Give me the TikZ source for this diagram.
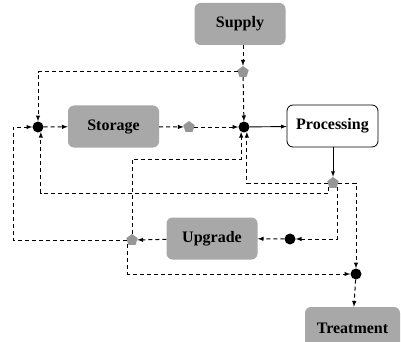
\documentclass[tikz,border=0pt]{standalone}
\usepackage{fontspec}
\setmainfont{Liberation Serif}
\usetikzlibrary{shapes.geometric}
\definecolor{boxgray}{RGB}{168,168,168}
\definecolor{markgray}{RGB}{150,150,150}
\begin{document}
\begin{tikzpicture}[x=1pt, y=-1pt,
    unit/.style = {rounded corners=6pt, minimum width=91pt, minimum height=42pt,
                   fill=boxgray, font=\fontsize{16}{18}\selectfont\bfseries},
    junction/.style = {circle, fill=black, inner sep=0pt, minimum size=11pt},
    mixer/.style = {regular polygon, regular polygon sides=5, fill=markgray,
                    inner sep=0pt, minimum size=12pt},
    flow/.style = {dashed, dash pattern=on 4pt off 3pt, line width=1pt, -latex},
    feed/.style = {line width=0.9pt, -latex}
  ]
  \useasboundingbox (0,0) rectangle (401,342);
  % units
  \node[unit] (supply) at (240,24) {Supply};
  \node[unit] (storage) at (113.5,126.5) {Storage};
  \node[unit, fill=white, draw=black, line width=0.8pt] (processing) at (332.5,126) {Processing};
  \node[unit] (upgrade) at (212,238.5) {Upgrade};
  \node[unit, minimum width=95pt] (treatment) at (352.5,328) {Treatment};
  % junctions and mixers
  \node[junction] (jleft) at (38,127) {};
  \node[junction] (jmid) at (244,127) {};
  \node[junction] (jup) at (290,239) {};
  \node[junction] (jout) at (356,274) {};
  \node[mixer] (msupply) at (243,72) {};
  \node[mixer] (mstore) at (189,127) {};
  \node[mixer] (mproc) at (333,183) {};
  \node[mixer] (mup) at (132,240) {};
  \coordinate (leftrail) at (13,0);
  \coordinate (midrail) at (0,159);
  \coordinate (lowrail) at (0,193);
  \coordinate (botrail) at (0,274);
  % connections
  \draw[flow] (supply.south -| msupply) -- (msupply);
  \draw[flow] (msupply) -| (jleft);
  \draw[flow] (msupply) -- (jmid);
  \draw[flow] (jleft) -- (storage);
  \draw[flow] (storage) -- (mstore);
  \draw[flow] (mstore) -- (jmid);
  \draw[feed] (jmid) -- (processing);
  \draw[feed] (processing.south -| mproc) -- (mproc);
  \draw[flow] (mproc) -| (jmid.-60);
  \draw[flow] (mproc.south west) |- (jleft.-60 |- lowrail) -- (jleft.-60);
  \draw[flow] (mproc.south east) |- (jup);
  \draw[flow] (mproc) -| (jout);
  \draw[flow] (jup) -- (upgrade);
  \draw[flow] (upgrade) -- (mup);
  \draw[flow] (mup) -- (mup -| leftrail) |- (jleft);
  \draw[flow] (mup) -- (mup |- midrail) -| (jmid.-120);
  \draw[flow] (mup.south west) |- (jout);
  \draw[flow] (jout) -- (treatment);
\end{tikzpicture}
\end{document}
